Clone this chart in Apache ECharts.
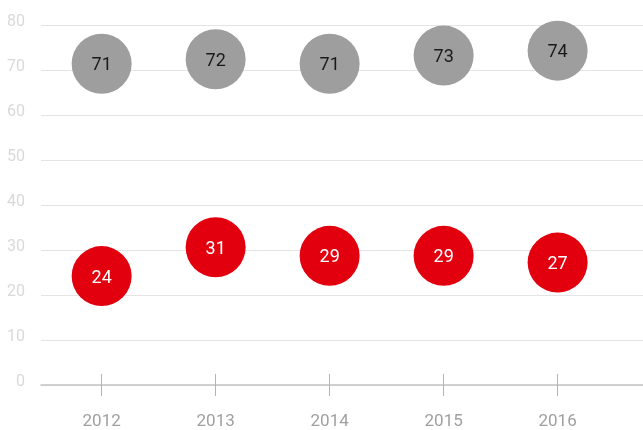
<!DOCTYPE html>
<html>
<head>
<meta charset="utf-8">
<script src="https://cdn.jsdelivr.net/npm/echarts@6/dist/echarts.min.js"></script>
<style>
html,body{margin:0;padding:0;background:#fff;}
#main{width:643px;height:430px;}
</style>
</head>
<body>
<div id="main"></div>
<script>
var years = ['2012', '2013', '2014', '2015', '2016'];
var greyValues = [71.4, 72.4, 71.4, 73.2, 74.3];	//上排灰色
var redValues = [24.2, 30.6, 28.7, 28.7, 27.2];		//下排红色
var yTicks = [0, 10, 20, 30, 40, 50, 60, 70, 80];

var positions = years.map(function(y, i){ return i; });
function toPoints(vals){
	return vals.map(function(v, i){ return [i, v]; });
}

var myChart = echarts.init(document.getElementById('main'));
var option = {
	animation: false,
	textStyle: { fontFamily: 'Roboto' },
	grid: { left: 41, right: 0, top: 25, bottom: 42 },
	xAxis: [
		{
			type: 'value',
			min: -0.532,
			max: 4.749,
			splitLine: { show: false },
			axisLine: { show: true, onZero: false, lineStyle: { color: '#c4c4c4', width: 1.5 } },
			axisTick: { show: true, length: 11, customValues: positions, lineStyle: { color: '#b4b4b4' } },
			axisLabel: {
				customValues: positions,
				margin: 28,
				fontSize: 17,
				color: '#a0a0a0',
				formatter: function(v){ return years[Math.round(v)]; }
			}
		},
		{
			type: 'value',
			position: 'bottom',
			min: -0.532,
			max: 4.749,
			splitLine: { show: false },
			axisLine: { show: false },
			axisLabel: { show: false },
			axisTick: { show: true, inside: true, length: 11, customValues: positions, lineStyle: { color: '#b4b4b4' } }
		}
	],
	yAxis: {
		type: 'value',
		min: 0,
		max: 80,
		interval: 10,
		axisLine: { show: false },
		axisTick: { show: false },
		splitLine: { lineStyle: { color: '#e4e4e4' } },
		axisLabel: {
			margin: 16,
			verticalAlign: 'middle',
			formatter: function(v){ return yTicks.indexOf(v) >= 0 ? '{t|' + v + '}' : ''; },
			rich: {
				t: { fontSize: 16, color: '#d9d9d9', fontFamily: 'Roboto', padding: [0, 0, 6, 0] }
			}
		}
	},
	series: [
		{
			type: 'scatter',
			symbolSize: 60,
			itemStyle: { color: '#9e9e9e', opacity: 1 },
			label: {
				show: true,
				position: 'inside',
				offset: [0, 2],
				fontSize: 18,
				color: '#1a1a1a',
				formatter: function(p){ return Math.round(p.value[1]); }
			},
			data: toPoints(greyValues)
		},
		{
			type: 'scatter',
			symbolSize: 60,
			itemStyle: { color: '#e2000f', opacity: 1 },
			label: {
				show: true,
				position: 'inside',
				offset: [0, 2],
				fontSize: 18,
				color: '#ffffff',
				formatter: function(p){ return Math.round(p.value[1]); }
			},
			data: toPoints(redValues)
		}
	]
};
myChart.setOption(option);
</script>
</body>
</html>
